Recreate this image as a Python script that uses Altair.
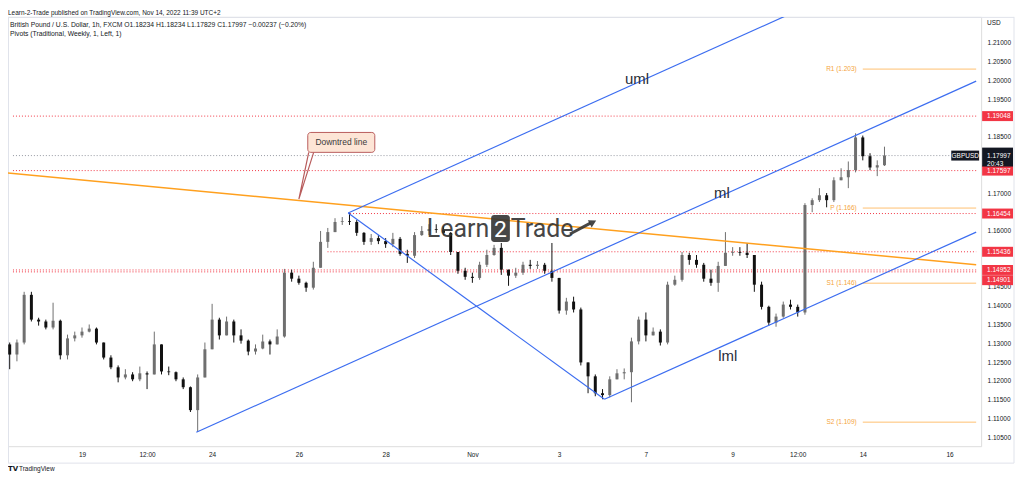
import altair as alt
import pandas as pd

FONT = "Liberation Sans"
INK = "#131722"
UP = "#6f6f6f"
DOWN = "#111111"
RED = "#F23645"
BLUE = "#3c6df0"
ORANGE = "#ffa01e"
PIVOT_LINE = "#ffbf70"
PIVOT_TEXT = "#f5a440"

# ---------------- scales: trading-day index (0 = Mon Oct 17 00:00, weekends removed) and price
x_domain = [0.40909, 22.6136]
y_domain = [1.102602, 1.216895]

# ---------------- 4-hour candles (GBPUSD)
bar_start_day = 1 / 3
bar_step_day = 1 / 6
first_open = 1.1297
closes = [
    1.1270, 1.1302, 1.1429, 1.1363, 1.1358, 1.1342, 1.1360, 1.1268, 1.1313, 1.1321,
    1.1331, 1.1339, 1.1302, 1.1262, 1.1236, 1.1209, 1.1217, 1.1204, 1.1220, 1.1217,
    1.1297, 1.1225, 1.1223, 1.1204, 1.1183, 1.1122, 1.1209, 1.1284, 1.1363, 1.1321,
    1.1358, 1.1321, 1.1307, 1.1278, 1.1286, 1.1305, 1.1297, 1.1318, 1.1488, 1.1472,
    1.1461, 1.1448, 1.1501, 1.1570, 1.1596, 1.1623, 1.1625, 1.1623, 1.1594, 1.1570,
    1.1580, 1.1572, 1.1564, 1.1578, 1.1538, 1.1533, 1.1588, 1.1599, 1.1604, 1.1602,
    1.1594, 1.1543, 1.1493, 1.1477, 1.1474, 1.1509, 1.1535, 1.1554, 1.1496, 1.1480,
    1.1488, 1.1509, 1.1506, 1.1509, 1.1493, 1.1474, 1.1387, 1.1411, 1.1390, 1.1249,
    1.1212, 1.1167, 1.1162, 1.1204, 1.1220, 1.1223, 1.1305, 1.1363, 1.1321, 1.1331,
    1.1302, 1.1456, 1.1469, 1.1535, 1.1522, 1.1509, 1.1472, 1.1461, 1.1506, 1.1541,
    1.1543, 1.1541, 1.1535, 1.1456, 1.1397, 1.1355, 1.1371, 1.1403, 1.1397, 1.1382,
    1.1668, 1.1681, 1.1694, 1.1681, 1.1734, 1.1742, 1.1761, 1.1848, 1.1798, 1.1768,
    1.1774, 1.17997,
]
highs = [
    1.1302, 1.1310, 1.1437, 1.1437, 1.1368, 1.1363, 1.1408, 1.1363, 1.1323, 1.1331,
    1.1342, 1.1350, 1.1342, 1.1302, 1.1268, 1.1241, 1.1231, 1.1223, 1.1238, 1.1225,
    1.1331, 1.1297, 1.1238, 1.1225, 1.1209, 1.1185, 1.1217, 1.1302, 1.1405, 1.1368,
    1.1371, 1.1363, 1.1337, 1.1310, 1.1297, 1.1323, 1.1310, 1.1337, 1.1498, 1.1496,
    1.1480, 1.1464, 1.1517, 1.1599, 1.1607, 1.1633, 1.1636, 1.1647, 1.1628, 1.1596,
    1.1591, 1.1588, 1.1580, 1.1594, 1.1583, 1.1549, 1.1596, 1.1612, 1.1617, 1.1617,
    1.1612, 1.1596, 1.1543, 1.1501, 1.1488, 1.1517, 1.1549, 1.1562, 1.1567, 1.1496,
    1.1501, 1.1517, 1.1522, 1.1519, 1.1514, 1.1567, 1.1474, 1.1421, 1.1424, 1.1395,
    1.1249, 1.1217, 1.1178, 1.1212, 1.1231, 1.1233, 1.1315, 1.1371, 1.1382, 1.1342,
    1.1337, 1.1464, 1.1480, 1.1543, 1.1541, 1.1535, 1.1514, 1.1496, 1.1517, 1.1596,
    1.1556, 1.1556, 1.1567, 1.1535, 1.1464, 1.1400, 1.1379, 1.1411, 1.1416, 1.1403,
    1.1673, 1.1686, 1.1713, 1.1700, 1.1742, 1.1766, 1.1784, 1.1859, 1.1853, 1.1806,
    1.1787, 1.18234,
]
lows = [
    1.1231, 1.1252, 1.1297, 1.1358, 1.1347, 1.1337, 1.1337, 1.1257, 1.1257, 1.1305,
    1.1315, 1.1329, 1.1297, 1.1257, 1.1231, 1.1196, 1.1204, 1.1199, 1.1199, 1.1178,
    1.1217, 1.1217, 1.1215, 1.1199, 1.1178, 1.1117, 1.1064, 1.1209, 1.1284, 1.1310,
    1.1321, 1.1302, 1.1299, 1.1268, 1.1270, 1.1284, 1.1270, 1.1297, 1.1315, 1.1464,
    1.1456, 1.1437, 1.1443, 1.1501, 1.1554, 1.1596, 1.1615, 1.1615, 1.1586, 1.1562,
    1.1562, 1.1564, 1.1554, 1.1556, 1.1533, 1.1514, 1.1527, 1.1586, 1.1588, 1.1594,
    1.1588, 1.1535, 1.1485, 1.1469, 1.1461, 1.1469, 1.1503, 1.1533, 1.1482, 1.1453,
    1.1474, 1.1482, 1.1498, 1.1498, 1.1485, 1.1464, 1.1379, 1.1376, 1.1382, 1.1241,
    1.1167, 1.1159, 1.1151, 1.1156, 1.1204, 1.1204, 1.1143, 1.1297, 1.1305, 1.1321,
    1.1294, 1.1297, 1.1453, 1.1464, 1.1509, 1.1501, 1.1464, 1.1453, 1.1437, 1.1506,
    1.1533, 1.1533, 1.1527, 1.1437, 1.1390, 1.1347, 1.1344, 1.1368, 1.1390, 1.1371,
    1.1376, 1.1649, 1.1676, 1.1662, 1.1676, 1.1734, 1.1713, 1.1755, 1.1787, 1.1761,
    1.1745, 1.1772,
]

# ---------------- axes (price labels hidden behind tags are not shown, as in the reference)
time_tick_days = [2, 3.5, 5, 7, 9, 11, 13, 15, 17, 18.5, 20, 22]
time_tick_labels = ["19", "12:00", "24", "26", "28", "Nov", "3", "7", "9", "12:00", "14", "16"]
price_ticks = [1.105, 1.110, 1.115, 1.120, 1.125, 1.130, 1.135, 1.140, 1.145,
               1.160, 1.170, 1.185, 1.195, 1.200, 1.205, 1.210]

# ---------------- horizontal levels (red dotted) and their price-scale tags
level_prices = [1.19048, 1.17597, 1.16454, 1.15436, 1.14952, 1.14901]
level_start_days = [0.40909, 0.40909, 8.18, 7.66, 0.40909, 0.40909]
level_tag_prices = [1.19048, 1.17597, 1.16454, 1.15436, 1.14952, 1.14680]

last_price = 1.17997
countdown = "20:43"
symbol = "GBPUSD"

# ---------------- weekly pivots
pivot_names = ["R1 (1.203)", "P (1.166)", "S1 (1.146)", "S2 (1.109)"]
pivot_prices = [1.203, 1.166, 1.146, 1.109]
pivot_start_day = 20
pivot_label_day = 19.86

# ---------------- drawings
trend_days = [0.227, 22.614]
trend_prices = [1.1754, 1.1509]

fork_names = ["ml", "ml", "uml", "uml", "lml", "lml", "bc", "bc"]
fork_days = [4.636, 22.614, 8.136, 22.614, 14.045, 22.614, 8.136, 14.045]
fork_prices = [1.1063, 1.1998, 1.1647, 1.2400, 1.1151, 1.1596, 1.1647, 1.1151]

fork_label_text = ["uml", "ml", "lml"]
fork_label_days = [14.795, 16.75, 16.886]
fork_label_prices = [1.20045, 1.16996, 1.12673]

callout_text = "Downtred line"
callout_box_days = [7.205, 8.75]
callout_box_prices = [1.18083, 1.18613]
callout_text_day = 7.977
callout_text_price = 1.18348
callout_tail_days = [7.227, 7.00, 7.341]
callout_tail_prices = [1.18083, 1.16837, 1.18083]

logo_base_price = 1.15829
logo_left_word = "Learn"
logo_left_day = 11.386
logo_box_days = [11.432, 11.864]
logo_box_prices = [1.15696, 1.16412]
logo_mid_day = 11.648
logo_right_word = "Trade"
logo_right_day = 11.886
logo_arrow_days = [13.25, 13.72]
logo_arrow_prices = [1.15909, 1.16200]
logo_tip_day = 13.78
logo_tip_price = 1.16222

header_text = "Learn-2-Trade published on TradingView.com, Nov 14, 2022 11:39 UTC+2"
symbol_text = ("British Pound / U.S. Dollar, 1h, FXCM   O1.18234  H1.18234  L1.17829  "
               "C1.17997  \u22120.00237 (\u22120.20%)")
pivots_text = "Pivots (Traditional, Weekly, 1, Left, 1)"

# ================= build tables
opens = [first_open] + closes[:-1]
candles = pd.DataFrame({
    "day": [bar_start_day + i * bar_step_day for i in range(len(closes))],
    "open": opens, "close": closes, "high": highs, "low": lows,
})
candles["dir"] = ["up" if c >= o else "down" for o, c in zip(opens, closes)]

levels = pd.DataFrame({"price": level_prices, "start": level_start_days,
                       "end": [x_domain[1]] * len(level_prices),
                       "tag": level_tag_prices,
                       "label": [f"{p:.5f}" for p in level_prices]})
pivots = pd.DataFrame({"name": pivot_names, "price": pivot_prices,
                       "start": [pivot_start_day] * 4, "end": [x_domain[1]] * 4,
                       "lday": [pivot_label_day] * 4})
trend = pd.DataFrame({"day": trend_days, "price": trend_prices})
fork = pd.DataFrame({"name": fork_names, "day": fork_days, "price": fork_prices,
                     "order": list(range(len(fork_names)))})
fork_labels = pd.DataFrame({"t": fork_label_text, "day": fork_label_days, "price": fork_label_prices})
lastp = pd.DataFrame({"price": [last_price], "start": [x_domain[0]], "end": [x_domain[1]],
                      "label": [f"{last_price:.5f}"], "cd": [countdown], "sym": [symbol]})

xs = alt.Scale(domain=x_domain, nice=False, zero=False)
ys = alt.Scale(domain=y_domain, nice=False, zero=False)
label_expr = " : ".join(f"datum.value == {v} ? '{l}'" for v, l in zip(time_tick_days, time_tick_labels)) + " : ''"
x_axis = alt.Axis(values=time_tick_days, labelExpr=label_expr, title=None, grid=False, domain=False,
                  ticks=False, tickSize=0, labelPadding=5, labelFontSize=6.5, labelColor=INK,
                  labelFont=FONT, labelOverlap=False, labelFlush=False, labelBaseline="top")
y_axis = alt.Axis(orient="right", values=price_ticks, format=".5f", title=None, grid=False,
                  domain=False, ticks=False, tickSize=0, labelPadding=6, labelAlign="left",
                  labelBaseline="middle", labelFontSize=6.5, labelColor=INK, labelFont=FONT,
                  labelOverlap=False, labelFlush=False)


def X(f):
    return alt.X(f"{f}:Q", scale=xs, axis=x_axis, title=None)


def Y(f):
    return alt.Y(f"{f}:Q", scale=ys, axis=y_axis, title=None)


one = pd.DataFrame({"a": [0]})
layers = []

# panel borders
for enc in [dict(x=alt.value(0.5), y=alt.value(0), y2=alt.value(448)),
            dict(x=alt.value(1010), y=alt.value(0), y2=alt.value(448)),
            dict(x=alt.value(0), x2=alt.value(1010), y=alt.value(0.5)),
            dict(x=alt.value(0), x2=alt.value(1010), y=alt.value(448))]:
    layers.append(alt.Chart(one).mark_rule(color="#e0e3eb", strokeWidth=1).encode(**enc))

# current price dotted line
layers.append(alt.Chart(lastp).mark_rule(color="#9598a1", strokeDash=[1, 2], strokeWidth=1).encode(
    x=X("start"), x2=alt.X2("end"), y=Y("price")))
# red dotted levels
layers.append(alt.Chart(levels).mark_rule(color=RED, strokeDash=[1, 2], strokeWidth=1).encode(
    x=X("start"), x2=alt.X2("end"), y=Y("price")))
# pivots
layers.append(alt.Chart(pivots).mark_rule(color=PIVOT_LINE, strokeWidth=1).encode(
    x=X("start"), x2=alt.X2("end"), y=Y("price")))
layers.append(alt.Chart(pivots).mark_text(align="right", baseline="middle", fontSize=6.5, font=FONT,
                                          color=PIVOT_TEXT).encode(x=X("lday"), y=Y("price"), text="name:N"))

# candles
ccol = alt.Color("dir:N", scale=alt.Scale(domain=["up", "down"], range=[UP, DOWN]), legend=None)
layers.append(alt.Chart(candles).mark_rule(strokeWidth=1).encode(
    x=X("day"), y=Y("low"), y2=alt.Y2("high"), color=ccol))
layers.append(alt.Chart(candles).mark_bar(size=3).encode(
    x=X("day"), y=Y("open"), y2=alt.Y2("close"), color=ccol))

# downtrend line
layers.append(alt.Chart(trend).mark_line(color=ORANGE, strokeWidth=1.5, clip=True).encode(
    x=X("day"), y=Y("price")))
# pitchfork
layers.append(alt.Chart(fork).mark_line(color=BLUE, strokeWidth=1.2, clip=True).encode(
    x=X("day"), y=Y("price"), detail="name:N", order="order:Q"))
layers.append(alt.Chart(fork_labels).mark_text(fontSize=15, font=FONT, color="#2a2e39",
                                               baseline="middle").encode(
    x=X("day"), y=Y("price"), text="t:N"))

# Learn2Trade watermark
logo_words = pd.DataFrame({"t": [logo_left_word, logo_right_word], "day": [logo_left_day, logo_right_day],
                           "price": [logo_base_price] * 2, "al": ["right", "left"]})
layers.append(alt.Chart(logo_words[logo_words.al == "right"]).mark_text(
    align="right", baseline="alphabetic", fontSize=25, font="Roboto", color="#333333", opacity=0.9).encode(
    x=X("day"), y=Y("price"), text="t:N"))
layers.append(alt.Chart(logo_words[logo_words.al == "left"]).mark_text(
    align="left", baseline="alphabetic", fontSize=25, font="Roboto", color="#333333", opacity=0.9).encode(
    x=X("day"), y=Y("price"), text="t:N"))
logo_box = pd.DataFrame({"d1": [logo_box_days[0]], "d2": [logo_box_days[1]],
                         "p1": [logo_box_prices[0]], "p2": [logo_box_prices[1]],
                         "dm": [logo_mid_day], "pb": [logo_base_price], "t": ["2"]})
layers.append(alt.Chart(logo_box).mark_rect(color="#333333", cornerRadius=3, opacity=0.9).encode(
    x=X("d1"), x2=alt.X2("d2"), y=Y("p1"), y2=alt.Y2("p2")))
layers.append(alt.Chart(logo_box).mark_text(align="center", baseline="alphabetic", fontSize=23,
                                            font="Roboto", color="white").encode(
    x=X("dm"), y=Y("pb"), text="t:N"))
arrow = pd.DataFrame({"day": logo_arrow_days, "price": logo_arrow_prices})
layers.append(alt.Chart(arrow).mark_line(color="#333333", strokeWidth=3, opacity=0.9).encode(
    x=X("day"), y=Y("price")))
tip = pd.DataFrame({"day": [logo_tip_day], "price": [logo_tip_price]})
layers.append(alt.Chart(tip).mark_point(shape="triangle-right", filled=True, size=70, angle=333,
                                        color="#333333", opacity=0.9, strokeWidth=0).encode(
    x=X("day"), y=Y("price")))

# callout
tail = pd.DataFrame({"day": callout_tail_days, "price": callout_tail_prices, "o": [0, 1, 2]})
layers.append(alt.Chart(tail).mark_line(color="#b85c5c", strokeWidth=1.2).encode(
    x=X("day"), y=Y("price"), order="o:Q"))
cbox = pd.DataFrame({"d1": [callout_box_days[0]], "d2": [callout_box_days[1]],
                     "p1": [callout_box_prices[0]], "p2": [callout_box_prices[1]],
                     "dt": [callout_text_day], "pt": [callout_text_price], "t": [callout_text]})
layers.append(alt.Chart(cbox).mark_rect(fill="#fde5d6", stroke="#b85c5c", strokeWidth=1,
                                        cornerRadius=3).encode(
    x=X("d1"), x2=alt.X2("d2"), y=Y("p1"), y2=alt.Y2("p2")))
layers.append(alt.Chart(cbox).mark_text(fontSize=8.5, font=FONT, color="#3a3a3a",
                                        baseline="middle").encode(
    x=X("dt"), y=Y("pt"), text="t:N"))

# price-scale tags
layers.append(alt.Chart(levels).mark_rect(color=RED, yOffset=-5, y2Offset=5).encode(
    x=alt.value(978), x2=alt.value(1009), y=Y("tag"), y2=alt.Y2("tag")))
layers.append(alt.Chart(levels).mark_text(align="left", baseline="middle", fontSize=6.5, font=FONT,
                                          color="white").encode(
    x=alt.value(983), y=Y("tag"), text="label:N"))
layers.append(alt.Chart(lastp).mark_rect(color=INK, yOffset=-8, y2Offset=11).encode(
    x=alt.value(978), x2=alt.value(1009), y=Y("price"), y2=alt.Y2("price")))
layers.append(alt.Chart(lastp).mark_text(align="left", baseline="middle", fontSize=6.5, font=FONT,
                                         color="white").encode(
    x=alt.value(983), y=Y("price"), text="label:N"))
layers.append(alt.Chart(lastp).mark_text(align="left", baseline="middle", fontSize=6.5, font=FONT,
                                         color="white", dy=8).encode(
    x=alt.value(983), y=Y("price"), text="cd:N"))
layers.append(alt.Chart(lastp).mark_rect(color=INK, yOffset=-5, y2Offset=5).encode(
    x=alt.value(947), x2=alt.value(975), y=Y("price"), y2=alt.Y2("price")))
layers.append(alt.Chart(lastp).mark_text(align="center", baseline="middle", fontSize=6.5, font=FONT,
                                         color="white").encode(
    x=alt.value(961), y=Y("price"), text="sym:N"))

# header / footer texts
texts = pd.DataFrame({
    "t": [header_text, symbol_text, pivots_text, "USD", "TradingView"],
    "x": [0, 2, 2, 983, 11], "y": [-4, 8, 17, 6, 454],
})
for i, row in texts.iterrows():
    layers.append(alt.Chart(texts.iloc[[i]]).mark_text(
        align="left", baseline="middle", fontSize=6.8 if i in (1, 2) else 6.5, font=FONT, color=INK).encode(
        x=alt.value(float(row.x)), y=alt.value(float(row.y)), text="t:N"))
layers.append(alt.Chart(one).mark_text(align="left", baseline="middle", fontSize=7, font="DejaVu Sans",
                                       fontWeight="bold", color=INK).encode(
    x=alt.value(0), y=alt.value(454), text=alt.value("TV")))

chart = alt.layer(*layers).properties(
    width=977, height=431,
    padding={"left": 0, "top": 8, "right": 35, "bottom": 27},
    autosize=alt.AutoSizeParams(type="none"),
).configure_view(strokeWidth=0).configure(background="white")

chart.save("out.html", embed_options={"renderer": "svg", "actions": False})
